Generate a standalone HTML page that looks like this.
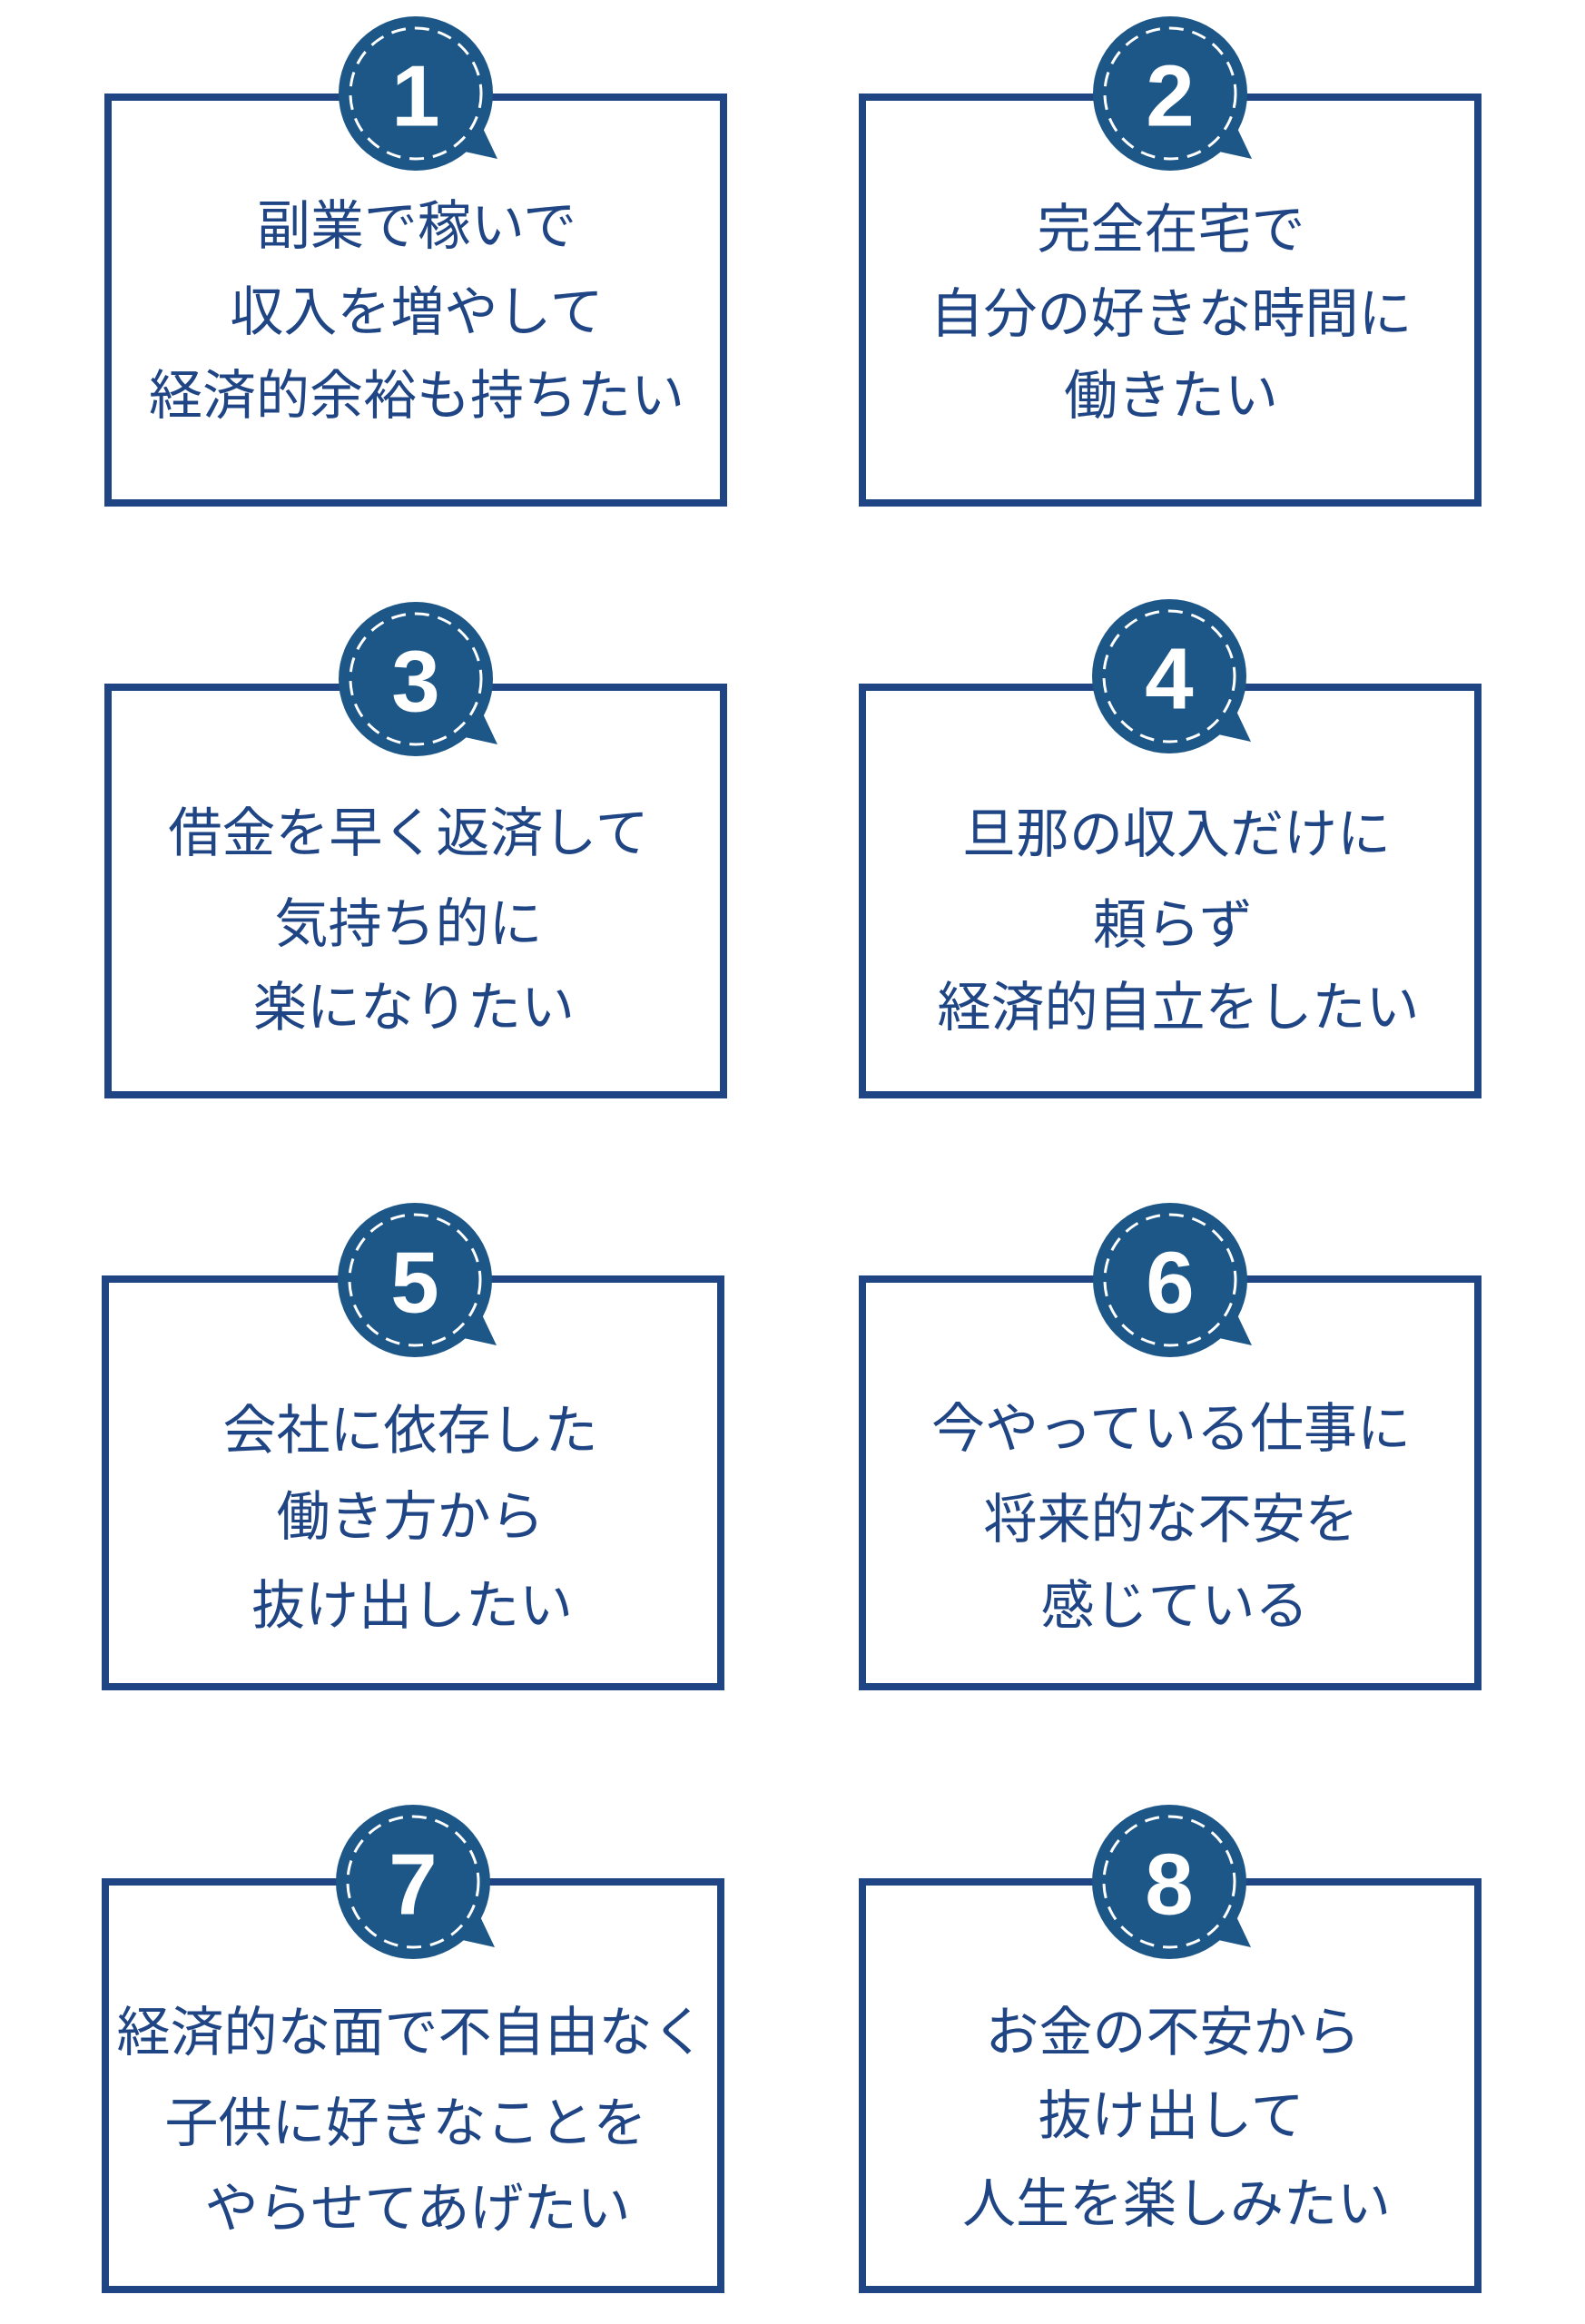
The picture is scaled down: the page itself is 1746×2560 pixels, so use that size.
<!DOCTYPE html>
<html><head><meta charset="utf-8"><style>
html,body{margin:0;padding:0;background:#fff;}
svg{display:block;}
.t{font-family:"Liberation Sans","Noto Sans CJK JP",sans-serif;font-size:59px;fill:#1f4584;text-anchor:middle;dominant-baseline:central;}
.n{font-family:"Liberation Sans",sans-serif;font-weight:bold;font-size:96px;fill:#fff;text-anchor:middle;dominant-baseline:central;}
</style></head><body>
<svg width="1746" height="2560" viewBox="0 0 1746 2560" xmlns="http://www.w3.org/2000/svg">
<defs>
<g id="badge">
<polygon points="45,62 90,72 70,30" fill="#1d5788"/>
<circle cx="0" cy="0" r="85" fill="#1d5788"/>
<circle cx="0" cy="0" r="72" fill="none" stroke="#fff" stroke-width="3" stroke-dasharray="16 10"/>
</g>
</defs>
<g fill="none" stroke="#1f4584" stroke-width="8">
<rect x="119" y="107" width="678" height="447"/>
<rect x="950" y="107" width="678" height="447"/>
<rect x="119" y="757" width="678" height="449"/>
<rect x="950" y="757" width="678" height="449"/>
<rect x="116" y="1409" width="678" height="449"/>
<rect x="950" y="1409" width="678" height="449"/>
<rect x="116" y="2073" width="678" height="449"/>
<rect x="950" y="2073" width="678" height="449"/>
</g>
<use href="#badge" x="458" y="103"/><text class="n" x="458" y="106">1</text>
<use href="#badge" x="1289" y="103"/><text class="n" x="1289" y="106">2</text>
<use href="#badge" x="458" y="748"/><text class="n" x="458" y="751">3</text>
<use href="#badge" x="1288" y="745"/><text class="n" x="1288" y="748">4</text>
<use href="#badge" x="457" y="1410"/><text class="n" x="457" y="1413">5</text>
<use href="#badge" x="1289" y="1410"/><text class="n" x="1289" y="1413">6</text>
<use href="#badge" x="455" y="2073"/><text class="n" x="455" y="2076">7</text>
<use href="#badge" x="1288" y="2073"/><text class="n" x="1288" y="2076">8</text>

<text class="t" x="459" y="249">副業で稼いで</text>
<text class="t" x="459" y="344">収入を増やして</text>
<text class="t" x="459" y="436">経済的余裕も持ちたい</text>

<text class="t" x="1290" y="253">完全在宅で</text>
<text class="t" x="1290" y="346">自分の好きな時間に</text>
<text class="t" x="1290" y="436">働きたい</text>

<text class="t" x="450" y="918">借金を早く返済して</text>
<text class="t" x="450" y="1018">気持ち的に</text>
<text class="t" x="456" y="1110">楽になりたい</text>

<text class="t" x="1296" y="919">旦那の収入だけに</text>
<text class="t" x="1292" y="1019">頼らず</text>
<text class="t" x="1298" y="1110">経済的自立をしたい</text>

<text class="t" x="452" y="1576">会社に依存した</text>
<text class="t" x="452" y="1671">働き方から</text>
<text class="t" x="454" y="1769">抜け出したい</text>

<text class="t" x="1290" y="1574">今やっている仕事に</text>
<text class="t" x="1290" y="1674">将来的な不安を</text>
<text class="t" x="1294" y="1769">感じている</text>

<text class="t" x="453" y="2239">経済的な面で不自由なく</text>
<text class="t" x="447" y="2339">子供に好きなことを</text>
<text class="t" x="460" y="2433">やらせてあげたい</text>

<text class="t" x="1292" y="2239">お金の不安から</text>
<text class="t" x="1290" y="2331">抜け出して</text>
<text class="t" x="1296" y="2428">人生を楽しみたい</text>
</svg>
</body></html>
